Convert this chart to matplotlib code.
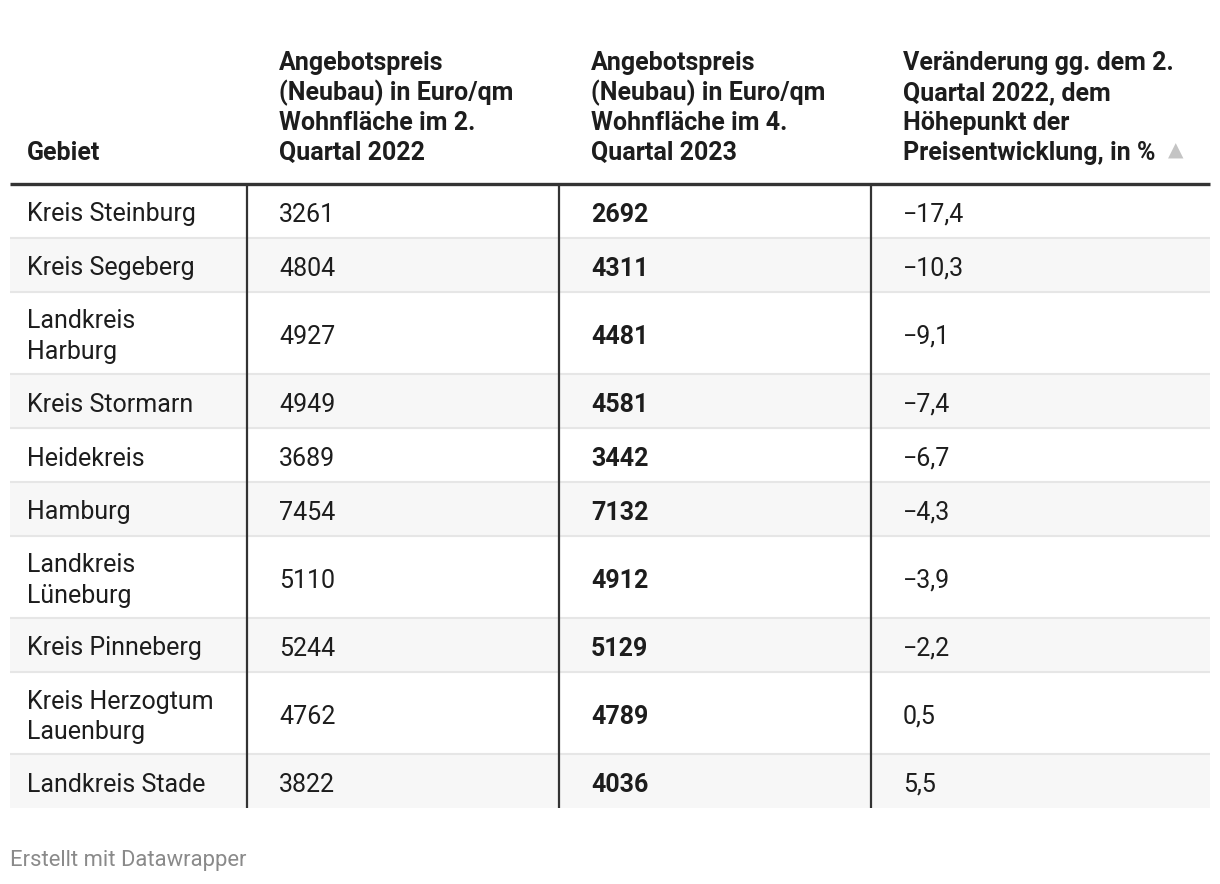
import matplotlib
matplotlib.use("Agg")
import matplotlib.pyplot as plt

plt.rcParams['font.family'] = ['Roboto', 'DejaVu Sans']

# ---- data ----
gebiet = ["Kreis Steinburg", "Kreis Segeberg", "Landkreis\nHarburg", "Kreis Stormarn",
          "Heidekreis", "Hamburg", "Landkreis\nLüneburg", "Kreis Pinneberg",
          "Kreis Herzogtum\nLauenburg", "Landkreis Stade"]
preis_q2_2022 = [3261, 4804, 4927, 4949, 3689, 7454, 5110, 5244, 4762, 3822]
preis_q4_2023 = [2692, 4311, 4481, 4581, 3442, 7132, 4912, 5129, 4789, 4036]
veraenderung = [-17.4, -10.3, -9.1, -7.4, -6.7, -4.3, -3.9, -2.2, 0.5, 5.5]
headers = ["Gebiet",
           "Angebotspreis\n(Neubau) in Euro/qm\nWohnfläche im 2.\nQuartal 2022",
           "Angebotspreis\n(Neubau) in Euro/qm\nWohnfläche im 4.\nQuartal 2023",
           "Veränderung gg. dem 2.\nQuartal 2022, dem\nHöhepunkt der\nPreisentwicklung, in %"]
footer = "Erstellt mit Datawrapper"

W, H = 1220, 884
fig = plt.figure(figsize=(W / 100, H / 100), dpi=100)
ax = fig.add_axes([0, 0, 1, 1])
ax.set_xlim(0, W)
ax.set_ylim(H, 0)
ax.axis('off')

left, right = 10, 1210
col_x = [10, 247, 559, 871, 1210]
col_pad = [17, 32, 32, 32]
header_bottom = 184
line_h = 30
fs = 18
text_col = "#1d1d1d"

# header
header_last_baseline = 160
for ci, h in enumerate(headers):
    lines = h.split("\n")
    n = len(lines)
    for li, ln in enumerate(lines):
        y = header_last_baseline - (n - 1 - li) * line_h
        ax.text(col_x[ci] + col_pad[ci], y, ln, fontsize=fs, fontweight='bold',
                color=text_col, va='baseline', ha='left')
ax.text(1176, 151, "▲", fontsize=14.5, color="#c4c4c4", va='center', ha='center',
        family=['DejaVu Sans'])

# rows
y = header_bottom
row_tops = []
for i, name in enumerate(gebiet):
    nlines = len(name.split("\n"))
    rh = 54 if nlines == 1 else 82
    row_tops.append((y, rh))
    y += rh
table_bottom = y

def fmt_pct(v):
    s = f"{abs(v):.1f}".replace(".", ",")
    return ("\u2212" + s) if v < 0 else s

base_off = 10.5
for i, (top, rh) in enumerate(row_tops):
    bg = "#ffffff" if i % 2 == 0 else "#f7f7f7"
    ax.add_patch(plt.Rectangle((left, top), right - left, rh, facecolor=bg,
                               edgecolor='none', zorder=0))
    if i > 0:
        ax.plot([left, right], [top, top], color="#e6e6e6", lw=1.5, zorder=1,
                solid_capstyle='butt')
    cy = top + rh / 2
    lines = gebiet[i].split("\n")
    n = len(lines)
    for li, ln in enumerate(lines):
        ly = cy + (li - (n - 1) / 2) * line_h + base_off
        ax.text(col_x[0] + col_pad[0], ly, ln, fontsize=fs, color=text_col,
                va='baseline', ha='left')
    ax.text(col_x[1] + col_pad[1], cy + base_off, str(preis_q2_2022[i]), fontsize=fs,
            color=text_col, va='baseline', ha='left')
    ax.text(col_x[2] + col_pad[2], cy + base_off, str(preis_q4_2023[i]), fontsize=fs,
            fontweight='bold', color=text_col, va='baseline', ha='left')
    ax.text(col_x[3] + col_pad[3], cy + base_off, fmt_pct(veraenderung[i]), fontsize=fs,
            color=text_col, va='baseline', ha='left')

# vertical separators
for cx in col_x[1:4]:
    ax.plot([cx, cx], [header_bottom, table_bottom], color="#333333", lw=1.6, zorder=3,
            solid_capstyle='butt')

# header rule
ax.plot([left, right], [header_bottom, header_bottom], color="#333333", lw=2.4, zorder=4,
        solid_capstyle='butt')

ax.text(10, 866, footer, fontsize=15.8, color="#8a8a8a", va='baseline', ha='left')

fig.savefig("out.png", dpi=100, facecolor='white')
